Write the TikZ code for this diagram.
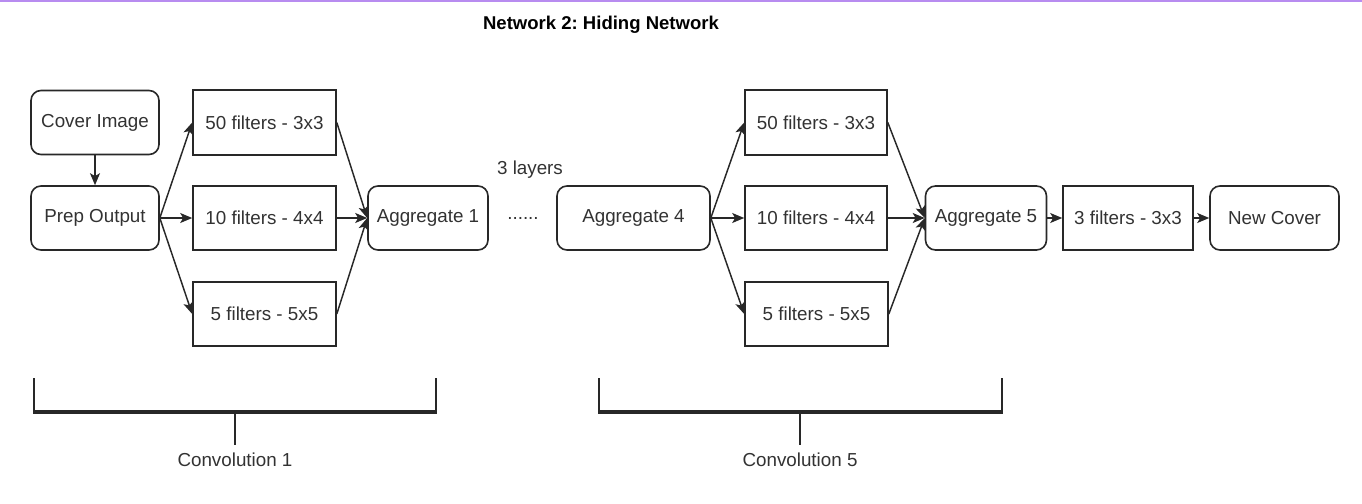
\documentclass[tikz,border=0pt]{standalone}
\usepackage{fontspec}
\setmainfont{Liberation Sans}
\usetikzlibrary{arrows.meta}
\frenchspacing
\definecolor{topline}{RGB}{184,140,240}
\definecolor{ink}{RGB}{40,40,40}
\definecolor{txt}{RGB}{50,50,50}
\tikzset{
  base/.style={draw=ink, line width=1.2pt, inner sep=0pt, text=txt,
    font=\fontsize{14.1}{16}\selectfont, minimum height=64*0.75pt},
  rbox/.style={base, rounded corners=7.5pt},
  fbox/.style={base},
  lbl/.style={inner sep=0pt, text=txt, font=\fontsize{14.1}{16}\selectfont},
  conn/.style={draw=ink, line width=1.1pt, -{Stealth[length=9pt,width=7.5pt,inset=2.2pt]}},
  brk/.style={draw=ink, line width=1.6pt},
  brkbar/.style={draw=ink, line width=2.4pt},
}
\begin{document}
\begin{tikzpicture}[x=0.75pt,y=-0.75pt]
\useasboundingbox (0,0) rectangle (1362,503);
\fill[topline] (0,0) rectangle (1362,2.5);
\node[lbl, font=\bfseries\fontsize{13.9}{16}\selectfont, text=black] (title) at (601,25) {Network 2: Hiding Network};

% left group
\node[rbox, minimum width=128*0.75pt] (cover) at (95,122.5) {Cover Image};
\node[rbox, minimum width=128*0.75pt] (prep) at (95,218) {Prep Output};
\node[fbox, minimum width=143*0.75pt, minimum height=65*0.75pt] (fa1) at (264.5,122.5) {50 filters - 3x3};
\node[fbox, minimum width=143*0.75pt] (fa2) at (264.5,218) {10 filters - 4x4};
\node[fbox, minimum width=143*0.75pt] (fa3) at (264.5,314) {5 filters - 5x5};
\node[rbox, minimum width=120*0.75pt] (agg1) at (428,218) {Aggregate 1};

\node[lbl] (layers) at (530,170) {3 layers};
\node[lbl] (dots) at (523,218) {......};

% right group
\node[rbox, minimum width=153*0.75pt] (agg4) at (633.5,218) {Aggregate 4};
\node[fbox, minimum width=142*0.75pt, minimum height=65*0.75pt] (fb1) at (816,122.5) {50 filters - 3x3};
\node[fbox, minimum width=142*0.75pt] (fb2) at (816,218) {10 filters - 4x4};
\node[fbox, minimum width=143*0.75pt] (fb3) at (816.5,314) {5 filters - 5x5};
\node[rbox, minimum width=121*0.75pt] (agg5) at (986,218) {Aggregate 5};
\node[fbox, minimum width=130*0.75pt] (f3) at (1128,218) {3 filters - 3x3};
\node[rbox, minimum width=129*0.75pt] (newc) at (1274.5,218) {New Cover};

% connectors
\draw[conn] (cover) -- (prep);
\draw[conn] (prep.east) -- (fa1.west);
\draw[conn] (prep.east) -- (fa2.west);
\draw[conn] (prep.east) -- (fa3.west);
\draw[conn] (fa1.east) -- (agg1.west);
\draw[conn] (fa2.east) -- (agg1.west);
\draw[conn] (fa3.east) -- (agg1.west);
\draw[conn] (agg4.east) -- (fb1.west);
\draw[conn] (agg4.east) -- (fb2.west);
\draw[conn] (agg4.east) -- (fb3.west);
\draw[conn] (fb1.east) -- (agg5.west);
\draw[conn] (fb2.east) -- (agg5.west);
\draw[conn] (fb3.east) -- (agg5.west);
\draw[conn] (agg5) -- (f3);
\draw[conn] (f3) -- (newc);

% brackets
\coordinate (b1l) at (34,378);
\coordinate (b1r) at (436,378);
\coordinate (b1m) at (235,412);
\coordinate (b1s) at (235,445);
\draw[brk] (b1l) -- (b1l |- b1m);
\draw[brk] (b1r) -- (b1r |- b1m);
\draw[brkbar] ([xshift=-0.6pt]b1l |- b1m) -- ([xshift=0.6pt]b1r |- b1m);
\draw[brk] (b1m) -- (b1s);
\node[lbl] (conv1) at (235,460) {Convolution 1};

\coordinate (b5l) at (599,378);
\coordinate (b5r) at (1002,378);
\coordinate (b5m) at (800,412);
\coordinate (b5s) at (800,445);
\draw[brk] (b5l) -- (b5l |- b5m);
\draw[brk] (b5r) -- (b5r |- b5m);
\draw[brkbar] ([xshift=-0.6pt]b5l |- b5m) -- ([xshift=0.6pt]b5r |- b5m);
\draw[brk] (b5m) -- (b5s);
\node[lbl] (conv5) at (800,460) {Convolution 5};
\end{tikzpicture}
\end{document}
